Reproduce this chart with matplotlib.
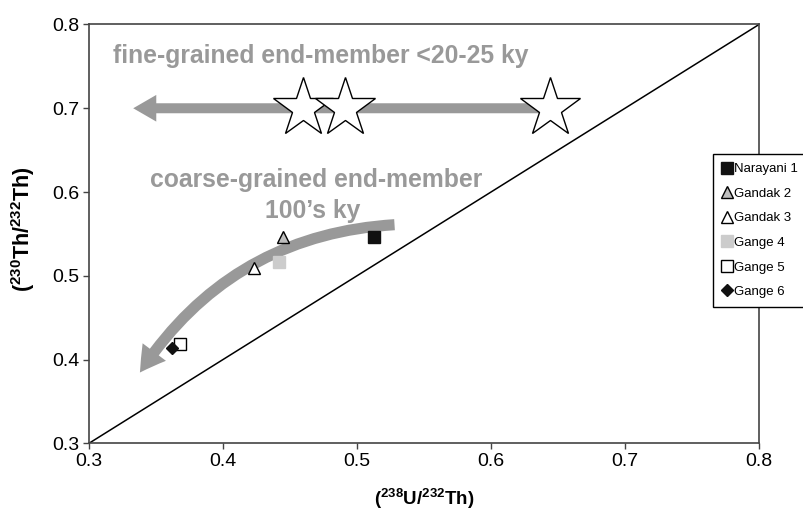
import matplotlib
matplotlib.use("Agg")
import matplotlib.pyplot as plt
from matplotlib.patches import FancyArrowPatch
from matplotlib.lines import Line2D

plt.rcParams['font.family'] = ['Liberation Sans', 'DejaVu Sans']
plt.rcParams['mathtext.fontset'] = 'custom'
plt.rcParams['mathtext.rm'] = 'Liberation Sans'
plt.rcParams['mathtext.bf'] = 'Liberation Sans:bold'

# ---- data ----
samples = ['Narayani 1', 'Gandak 2', 'Gandak 3', 'Gange 4', 'Gange 5', 'Gange 6']
u_th = [0.513, 0.445, 0.423, 0.442, 0.368, 0.362]
th_th = [0.546, 0.546, 0.509, 0.516, 0.419, 0.414]
markers = ['s', '^', '^', 's', 's', 'D']
face = ['#111111', '#bdbdbd', 'white', '#cccccc', 'white', '#111111']
edge = ['#111111', 'black', 'black', '#cccccc', 'black', '#111111']
msizes = [8.6, 9, 9, 8.6, 8.6, 6.2]

star_x = [0.460, 0.491, 0.644]
star_y = [0.70, 0.70, 0.70]

fine_arrow = [(0.644, 0.700), (0.333, 0.700)]
coarse_arrow = [(0.528, 0.561), (0.338, 0.3845)]

xticks = [0.3, 0.4, 0.5, 0.6, 0.7, 0.8]
yticks = [0.3, 0.4, 0.5, 0.6, 0.7, 0.8]

gray = '#999999'
axcol = '#444444'

fig = plt.figure(figsize=(8.04, 5.11), dpi=100)
ax = fig.add_axes([89/804, 1-443.3/511, (759-89)/804, (443.3-24.5)/511])
ax.set_xlim(0.3, 0.8)
ax.set_ylim(0.3, 0.8)

# 1:1 line
ax.plot([0.3, 0.8], [0.3, 0.8], color='black', lw=1.1, zorder=2)

# arrows
a1 = FancyArrowPatch(fine_arrow[0], fine_arrow[1],
                     arrowstyle='simple,head_length=1.66,head_width=1.92,tail_width=0.72',
                     mutation_scale=10, color=gray, lw=0, shrinkA=0, shrinkB=0, zorder=3)
ax.add_patch(a1)
a2 = FancyArrowPatch(coarse_arrow[0], coarse_arrow[1],
                     connectionstyle='arc3,rad=0.25',
                     arrowstyle='simple,head_length=1.8,head_width=2.1,tail_width=0.8',
                     mutation_scale=10, color=gray, lw=0, shrinkA=0, shrinkB=0, zorder=3)
ax.add_patch(a2)

# stars
for sx, sy in zip(star_x, star_y):
    ax.plot([sx], [sy], marker='*', ms=45, mfc='white', mec='black', mew=1.0,
            ls='none', zorder=4)

# samples
handles = []
for i, name in enumerate(samples):
    ax.plot([u_th[i]], [th_th[i]], marker=markers[i], ms=msizes[i], mfc=face[i],
            mec=edge[i], mew=1.0, ls='none', zorder=5)
    handles.append(Line2D([], [], marker=markers[i], ms=msizes[i]*0.95, mfc=face[i],
                          mec=edge[i], mew=1.0, ls='none', label=name))

# annotations
ax.text(0.3177, 0.7544, 'fine-grained end-member <20-25 ky', color=gray,
        fontsize=17.8, fontweight='bold', ha='left', va='baseline', zorder=6)
ax.text(0.4694, 0.6065, 'coarse-grained end-member', color=gray,
        fontsize=17.8, fontweight='bold', ha='center', va='baseline', zorder=6)
ax.text(0.4668, 0.5687, '100\u2019s ky', color=gray,
        fontsize=17.8, fontweight='bold', ha='center', va='baseline', zorder=6)

# axes styling
ax.set_xticks(xticks)
ax.set_yticks(yticks)
ax.set_xticklabels([f'{v:.1f}' for v in xticks])
ax.set_yticklabels([f'{v:.1f}' for v in yticks])
ax.tick_params(direction='out', length=4, width=1, color=axcol, labelsize=14,
               pad=3, labelcolor='black')
for sp in ax.spines.values():
    sp.set_color(axcol)
    sp.set_linewidth(1.2)

ax.set_xlabel(r'$\mathbf{(^{238}U/^{232}Th)}$', fontsize=13.5)
ax.xaxis.set_label_coords(0.5, -0.103)
ax.set_ylabel(r'$\mathbf{(^{230}Th/^{232}Th)}$', fontsize=15.5)
ax.yaxis.set_label_coords(-0.077, 0.51)

leg = ax.legend(handles=handles, loc='upper left',
                bbox_to_anchor=(713/804, 1-154/511), bbox_transform=fig.transFigure,
                borderaxespad=0, frameon=True, fancybox=False, framealpha=1,
                edgecolor='black', fontsize=9.5, handlelength=0.7, handletextpad=0.2,
                borderpad=0.7, labelspacing=0.93)
leg.get_frame().set_linewidth(1.0)
leg.set_zorder(10)

fig.savefig('out.png', dpi=100)
